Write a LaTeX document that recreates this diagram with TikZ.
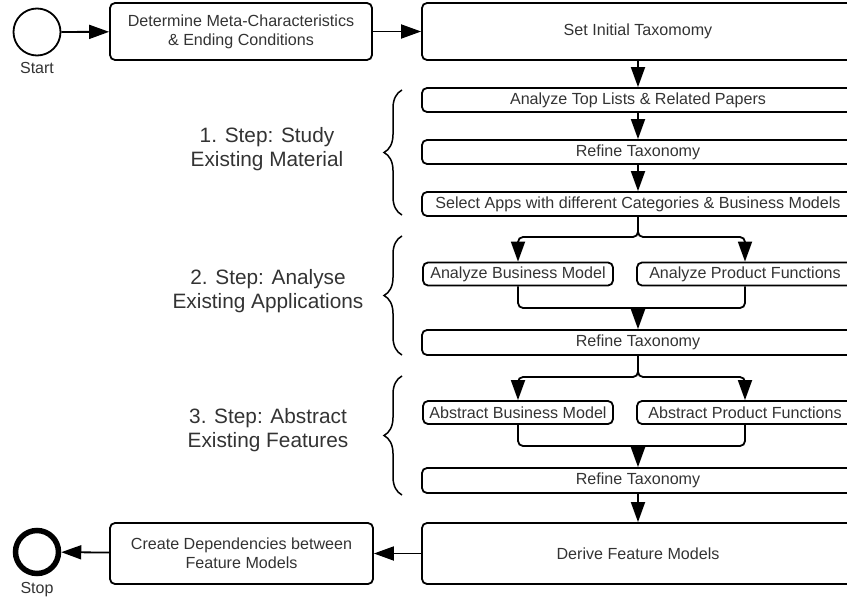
\documentclass[tikz,border=0pt]{standalone}
\usepackage{fontspec}
\setmainfont{Liberation Sans}
\usetikzlibrary{arrows.meta,decorations.pathreplacing}
\definecolor{txtgray}{HTML}{333333}
\tikzset{
  box/.style={draw,line width=1.8pt,rounded corners=5pt,align=center,text=txtgray,
    font=\fontsize{16.1}{19}\selectfont,inner sep=0pt},
  wide/.style={box,minimum width=432,minimum height=24},
  half/.style={box,minimum height=23},
  circ/.style={draw,circle,line width=1.8pt,minimum size=47,inner sep=0pt},
  lbl/.style={text=txtgray,font=\fontsize{16}{19}\selectfont,inner sep=0pt},
  steplbl/.style={align=center,text=txtgray,font=\fontsize{20.8}{24}\selectfont,inner sep=0pt},
  arr/.style={-{Triangle[length=20pt,width=14pt]},line width=1.8pt},
  con/.style={line width=1.8pt,rounded corners=5pt},
  brc/.style={decorate,decoration={brace,amplitude=18pt,aspect=0.5},line width=1.5pt}
}
\begin{document}
\begin{tikzpicture}[x=1pt,y=-1pt]
\useasboundingbox (0,0) rectangle (847,602);

% start and first row
\node [circ] (start) at (37,32) {};
\node [lbl] (startl) at (37,68) {Start};
\node [box,minimum width=262,minimum height=57] (meta) at (241,31.5) {Determine Meta-Characteristics\\\& Ending Conditions};
\node [box,minimum width=432,minimum height=57] (init) at (638,31.5) {Set Initial Taxomomy};

% step 1
\node [wide] (top) at (638,100) {Analyze Top Lists \& Related Papers};
\node [wide] (ref1) at (638,152) {Refine Taxonomy};
\node [wide] (sel) at (638,204) {Select Apps with different Categories \& Business Models};

% step 2
\node [half,minimum width=190] (abm) at (518,274) {Analyze Business Model};
\node [half,minimum width=216] (apf) at (745,274) {Analyze Product Functions};
\node [wide,minimum height=25] (ref2) at (638,342.5) {Refine Taxonomy};

% step 3
\node [half,minimum width=190] (xbm) at (518,412.5) {Abstract Business Model};
\node [half,minimum width=216] (xpf) at (745,412.5) {Abstract Product Functions};
\node [wide,minimum height=25] (ref3) at (638,480.5) {Refine Taxonomy};

% last row
\node [box,minimum width=432,minimum height=61] (derive) at (638,553.5) {Derive Feature Models};
\node [box,minimum width=263,minimum height=61] (dep) at (241.5,553.5) {Create Dependencies between\\Feature Models};
\node [circ,line width=5.5pt,minimum size=43] (stop) at (37,552) {};
\node [lbl] (stopl) at (37,590) {Stop};

% step labels
\node [steplbl] (step1) at (267,149) {1. Step: Study\\Existing Material};
\node [steplbl] (step2) at (268,291) {2. Step: Analyse\\Existing Applications};
\node [steplbl] (step3) at (268,430) {3. Step: Abstract\\Existing Features};

\draw [brc] (402,215) -- (402,90);
\draw [brc] (402,355) -- (402,236);
\draw [brc] (402,495) -- (402,376);

% connectors
\draw [arr] (start) -- (meta);
\draw [arr] (meta) -- (init);
\draw [arr] (init) -- (top);
\draw [arr] (top) -- (ref1);
\draw [arr] (ref1) -- (sel);

\coordinate (split1) at (638,237);
\draw [arr,con] (sel.south) -- (split1) -| (abm.north);
\draw [arr,con] (sel.south) -- (split1) -| (apf.north);
\coordinate (join1) at (638,308);
\draw [con] (abm.south) |- (join1) -| (apf.south);
\draw [arr] (join1) -- (ref2);

\coordinate (split2) at (638,377);
\draw [arr,con] (ref2.south) -- (split2) -| (xbm.north);
\draw [arr,con] (ref2.south) -- (split2) -| (xpf.north);
\coordinate (join2) at (638,446);
\draw [con] (xbm.south) |- (join2) -| (xpf.south);
\draw [arr] (join2) -- (ref3);

\draw [arr] (ref3) -- (derive);
\draw [arr] (derive) -- (dep);
\draw [arr] (dep) -- (stop);
\end{tikzpicture}
\end{document}
